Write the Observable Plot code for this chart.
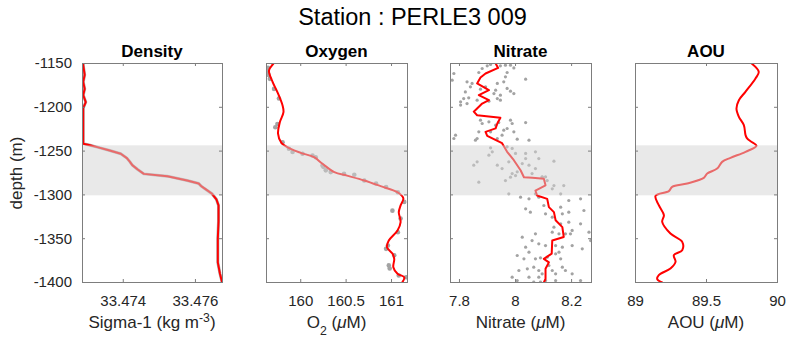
<!DOCTYPE html>
<html><head><meta charset="utf-8">
<script src="https://cdn.jsdelivr.net/npm/d3@7"></script>
<script src="https://cdn.jsdelivr.net/npm/@observablehq/plot@0.6"></script>
<style>
body{margin:0;background:#fff;}
#chart{position:relative;width:787px;height:340px;font-family:"Liberation Sans",Arial,Helvetica,sans-serif;color:#262626;overflow:hidden;background:#fff}
#chart svg{position:absolute;left:0;top:0}
.lbl{position:absolute;white-space:nowrap;transform:translateX(-50%)}
.lbl sup{font-size:0.72em;vertical-align:0.5em;line-height:0}
.lbl sub{font-size:0.72em;vertical-align:-0.55em;line-height:0}
</style></head><body><div id="chart"></div>
<script>
// ---------- text ----------
const mainTitle = "Station : PERLE3 009";
const panelTitles = ["Density", "Oxygen", "Nitrate", "AOU"];
const xLabels = ["Sigma-1 (kg m<sup>-3</sup>)", "O<sub>2</sub> (<i>\u03bc</i>M)", "Nitrate (<i>\u03bc</i>M)", "AOU (<i>\u03bc</i>M)"];
const yLabel = "depth (m)";

// ---------- axes ----------
const depthDomain = [-1400, -1150];
const depthTicks = [-1400, -1350, -1300, -1250, -1200, -1150];
const densityDomain = [33.47287, 33.47675];
const densityTicks = [33.474, 33.476];
const oxygenDomain = [159.623, 161.176];
const oxygenTicks = [160, 160.5, 161];
const nitrateDomain = [7.768, 8.271];
const nitrateTicks = [7.8, 8, 8.2];
const aouDomain = [89, 90];
const aouTicks = [89, 89.5, 90];
const bandDepth = [-1301, -1244];

// ---------- data ----------
const densityDepth = [-1150,-1152,-1163,-1171,-1179,-1186,-1194,-1201,-1217,-1241.5,-1243,-1245.5,-1249,-1253,-1258,-1262,-1266,-1271,-1276,-1278.6,-1283.6,-1287,-1290,-1294,-1298.7,-1305,-1312,-1330,-1350,-1365,-1377,-1390,-1400];
const densityValue = [33.47289,33.47289,33.47293,33.47289,33.47293,33.47289,33.47296,33.47289,33.47289,33.47289,33.47305,33.47328,33.47360,33.47393,33.47410,33.47418,33.47425,33.47440,33.47457,33.47522,33.47577,33.47609,33.47616,33.47630,33.47646,33.47658,33.47664,33.47664,33.47662,33.47662,33.47662,33.47668,33.47674];

const oxygenDepth = [-1150,-1151.5,-1158,-1171,-1182.7,-1198,-1205.6,-1217,-1230,-1240.5,-1247.4,-1252,-1257,-1264.5,-1274,-1278,-1283.6,-1290,-1297,-1303.8,-1312,-1319.7,-1331,-1340.6,-1352,-1359.7,-1367,-1373,-1382.5,-1390,-1394,-1399.6];
const oxygenValue = [159.70,159.688,159.65,159.69,159.743,159.80,159.81,159.77,159.75,159.787,159.89,160.00,160.147,160.24,160.37,160.51,160.70,160.88,161.066,161.13,161.10,161.08,161.10,161.066,160.97,160.95,161.01,161.03,161.02,161.066,161.14,161.12];
const oxygenSampleDepth = [-1155,-1160,-1163,-1167.5,-1179,-1190,-1219,-1222.7,-1240,-1247.4,-1251,-1253,-1255,-1257,-1266.4,-1268,-1272,-1274,-1276,-1277,-1283.6,-1287,-1291,-1297,-1308,-1318,-1327,-1342.6,-1357.8,-1361.6,-1369,-1380.5,-1384,-1392,-1394];
const oxygenSampleValue = [159.64,159.633,159.645,159.66,159.706,159.76,159.743,159.72,159.80,159.87,159.91,160.02,160.13,160.165,160.24,160.25,160.276,160.33,160.477,160.59,160.70,160.83,160.94,161.07,161.14,161.01,161.10,161.07,160.96,160.94,161.03,160.97,160.98,161.08,161.16];

const nitrateDepth = [-1150,-1155,-1161.4,-1166,-1172.8,-1180.5,-1186,-1191.8,-1195.7,-1205,-1209,-1212,-1218.5,-1224,-1228,-1232.5,-1241,-1250.8,-1260.4,-1271.8,-1279.8,-1280.5,-1281.6,-1289,-1295,-1300.7,-1304.5,-1314,-1319.7,-1329,-1336.8,-1348,-1352,-1367,-1373,-1377,-1384.4,-1395.8,-1400];
const nitrateValue = [7.929,7.938,7.893,7.875,7.863,7.905,7.869,7.905,7.881,7.851,7.863,7.946,7.935,7.929,7.893,7.899,7.952,7.970,7.994,8.018,8.030,8.06,8.101,8.107,8.071,8.077,8.113,8.119,8.137,8.143,8.167,8.172,8.131,8.129,8.101,8.119,8.107,8.107,8.101];
const nitrateSampleValue = [7.899,7.911,7.946,7.964,7.982,7.994,7.780,7.774,7.881,7.869,7.970,7.964,7.958,8.036,7.827,7.845,7.839,7.821,7.804,7.815,7.935,7.929,7.970,7.982,7.994,7.946,7.935,7.946,7.905,7.863,7.833,7.827,7.804,7.923,7.893,7.875,7.875,7.881,7.905,7.929,7.940,7.982,7.988,8.036,7.970,7.958,7.952,7.911,7.869,7.863,7.857,7.786,7.780,7.994,8.006,8.048,7.935,7.911,7.917,7.905,7.970,7.988,8.000,8.036,8.071,8.036,8.024,8.083,8.048,8.071,8.137,7.863,7.851,7.935,7.976,7.988,8.006,8.059,8.095,8.107,7.952,
7.869,7.964,7.982,8.000,8.095,8.113,8.137,8.172,8.131,8.161,8.071,7.976,8.018,8.048,8.083,8.190,8.232,8.244,8.036,8.053,8.107,8.161,8.167,8.190,8.101,8.131,8.137,8.161,8.190,8.232,8.131,8.155,8.178,8.196,8.202,8.262,8.268,8.238,8.024,8.059,8.071,8.083,8.107,8.143,8.167,8.202,8.036,8.048,8.006,8.030,8.071,8.089,8.113,8.143,8.155,8.161,8.119,8.065,8.042,8.012,8.083,8.131,8.167,8.178,8.143,8.095,8.048,8.083,8.107,8.143,7.988,8.006,8.202,8.232,8.065,8.089];
const nitrateSampleDepth = [-1152.7,-1151.1,-1152.7,-1151.9,-1151.9,-1155.0,-1161.4,-1169.0,-1155.7,-1160.3,-1160.3,-1165.2,-1170.9,-1167.9,-1170.9,-1172.8,-1176.6,-1182.4,-1193.8,-1190.0,-1172.8,-1180.4,-1178.5,-1181.6,-1184.3,-1186.2,-1190.0,-1191.9,-1193.0,-1191.9,-1189.2,-1195.7,-1197.5,-1184.3,-1176.6,-1179.3,-1214.7,-1218.5,-1216.6,-1220.4,-1217.4,-1214.7,-1218.5,-1217.4,-1224.2,-1226.1,-1231.8,-1228.0,-1228.0,-1235.6,-1237.5,-1231.8,-1235.6,-1228.0,-1236.4,-1237.5,-1235.6,-1246.3,-1250.8,-1254.7,-1245.1,-1247.0,-1252.7,-1252.7,-1250.8,-1258.5,-1264.2,-1258.5,-1266.1,-1269.9,-1261.5,-1262.3,-1266.1,-1266.1,-1262.3,-1275.6,-1273.7,-1275.6,-1279.4,-1279.4,-1269.9,
-1285.5,-1283.6,-1279.8,-1277.9,-1279.8,-1283.6,-1289.3,-1289.3,-1293.1,-1298.8,-1298.8,-1298.8,-1302.6,-1304.5,-1302.6,-1306.4,-1304.5,-1317.8,-1315.9,-1319.7,-1321.6,-1314.0,-1321.6,-1319.7,-1312.1,-1325.4,-1336.8,-1333.0,-1331.1,-1333.0,-1342.5,-1344.4,-1344.4,-1344.4,-1340.6,-1342.5,-1352.1,-1361.6,-1348.3,-1352.1,-1344.4,-1355.9,-1357.8,-1357.8,-1359.7,-1357.8,-1359.7,-1365.4,-1369.2,-1373.0,-1373.0,-1371.8,-1371.1,-1367.3,-1365.4,-1373.0,-1380.6,-1382.5,-1384.4,-1386.3,-1386.3,-1386.3,-1382.5,-1386.3,-1390.1,-1390.1,-1393.9,-1393.9,-1397.7,-1397.7,-1393.9,-1397.7,-1390.1,-1397.7,-1399.6,-1399.6];

const aouDepth = [-1150,-1159.5,-1167.1,-1182.4,-1191.9,-1201.4,-1210.9,-1220.4,-1231.8,-1235.6,-1238.7,-1244,-1250.8,-1257.7,-1262.3,-1269.9,-1275.6,-1280.5,-1287,-1290.8,-1295.7,-1301.1,-1311.7,-1323.1,-1330.8,-1344.1,-1353.6,-1363.1,-1368.8,-1376.4,-1384,-1391.6,-1396.2,-1400];
const aouValue = [89.818,89.868,89.845,89.774,89.728,89.711,89.728,89.763,89.775,89.786,89.810,89.852,89.775,89.669,89.610,89.575,89.505,89.481,89.364,89.258,89.235,89.141,89.164,89.200,89.188,89.246,89.329,89.329,89.270,89.282,89.246,89.164,89.153,89.188];

// ---------- build ----------
const zip = (d, v) => d.map((depth, i) => ({depth, v: v[i]}));
const W = 787, H = 340, mT = 63, mB = 58;
const FONT = '"Liberation Sans", Arial, Helvetica, sans-serif';
const RED = "#ff0000", DOT = "#a3a3a3", AX = "#7d7d7d", TXT = "#262626";
const fmt = d => String(d);

const panels = [
  {left: 82, right: 565, domain: densityDomain, ticks: densityTicks, first: true,
   marks: [Plot.line(zip(densityDepth, densityValue), {x: "v", y: "depth", stroke: "#b0b0b0", strokeWidth: 3, clip: true}),
           Plot.line(zip(densityDepth, densityValue), {x: "v", y: "depth", stroke: RED, strokeWidth: 2, clip: true})]},
  {left: 266, right: 380, domain: oxygenDomain, ticks: oxygenTicks,
   marks: [Plot.dot(zip(oxygenSampleDepth, oxygenSampleValue), {x: "v", y: "depth", r: 2.3, fill: DOT, stroke: "none", clip: true}),
           Plot.line(zip(oxygenDepth, oxygenValue), {x: "v", y: "depth", stroke: RED, strokeWidth: 2, curve: "catmull-rom", clip: true})]},
  {left: 450, right: 196, domain: nitrateDomain, ticks: nitrateTicks,
   marks: [Plot.dot(zip(nitrateSampleDepth, nitrateSampleValue), {x: "v", y: "depth", r: 1.6, fill: DOT, stroke: "none", clip: true}),
           Plot.line(zip(nitrateDepth, nitrateValue), {x: "v", y: "depth", stroke: RED, strokeWidth: 2, clip: true})]},
  {left: 635, right: 10, domain: aouDomain, ticks: aouTicks,
   marks: [Plot.line(zip(aouDepth, aouValue), {x: "v", y: "depth", stroke: RED, strokeWidth: 2, curve: "catmull-rom", clip: true})]}
];

const chart = document.getElementById("chart");
panels.forEach((p, i) => {
  const innerH = H - mT - mB, innerW = W - p.left - p.right;
  const svg = Plot.plot({
    width: W, height: H,
    marginLeft: p.left, marginRight: p.right, marginTop: mT, marginBottom: mB,
    style: {background: "transparent", fontFamily: FONT, fontSize: "15px", color: TXT, overflow: "visible"},
    x: {domain: p.domain, axis: null},
    y: {domain: depthDomain, axis: null},
    marks: [
      ...p.marks,
      Plot.rect([bandDepth], {x1: () => p.domain[0], x2: () => p.domain[1], y1: d => d[0], y2: d => d[1], fill: "#d4d4d4", fillOpacity: 0.5}),
      Plot.axisX(p.ticks, {anchor: "bottom", tickSize: 0, tickPadding: 13, tickFormat: fmt, fontSize: 15, fill: TXT, label: null}),
      p.first ? Plot.axisY(depthTicks, {anchor: "left", tickSize: 0, tickPadding: 10.5, tickFormat: fmt, fontSize: 15, fill: TXT, label: null}) : null,
      Plot.tickX(p.ticks, {x: d => d, insetTop: innerH - 3, stroke: AX}),
      Plot.tickX(p.ticks, {x: d => d, insetBottom: innerH - 3, stroke: AX}),
      Plot.tickY(depthTicks, {y: d => d, insetLeft: innerW - 3, stroke: AX}),
      Plot.tickY(depthTicks, {y: d => d, insetRight: innerW - 3, stroke: AX}),
      Plot.frame({stroke: AX})
    ]
  });
  chart.appendChild(svg);
  const cx = p.left + innerW / 2;
  const t = document.createElement("div");
  t.className = "lbl";
  t.style.cssText = `left:${cx}px;top:42.9px;font-size:17px;line-height:17px;font-weight:bold;color:#000`;
  t.textContent = panelTitles[i];
  chart.appendChild(t);
  const xl = document.createElement("div");
  xl.className = "lbl";
  xl.style.cssText = `left:${cx}px;top:313.6px;font-size:17px;line-height:17px;color:${TXT}`;
  xl.innerHTML = xLabels[i];
  chart.appendChild(xl);
});

const mt = document.createElement("div");
mt.className = "lbl";
mt.style.cssText = "left:412.5px;top:6.1px;font-size:23.5px;line-height:23.5px;color:#000";
mt.textContent = mainTitle;
chart.appendChild(mt);

const yl = document.createElement("div");
yl.style.cssText = `position:absolute;left:15.5px;top:172.5px;font-size:17px;line-height:17px;white-space:nowrap;color:${TXT};transform:translate(-50%,-50%) rotate(-90deg)`;
yl.textContent = yLabel;
chart.appendChild(yl);
</script></body></html>
